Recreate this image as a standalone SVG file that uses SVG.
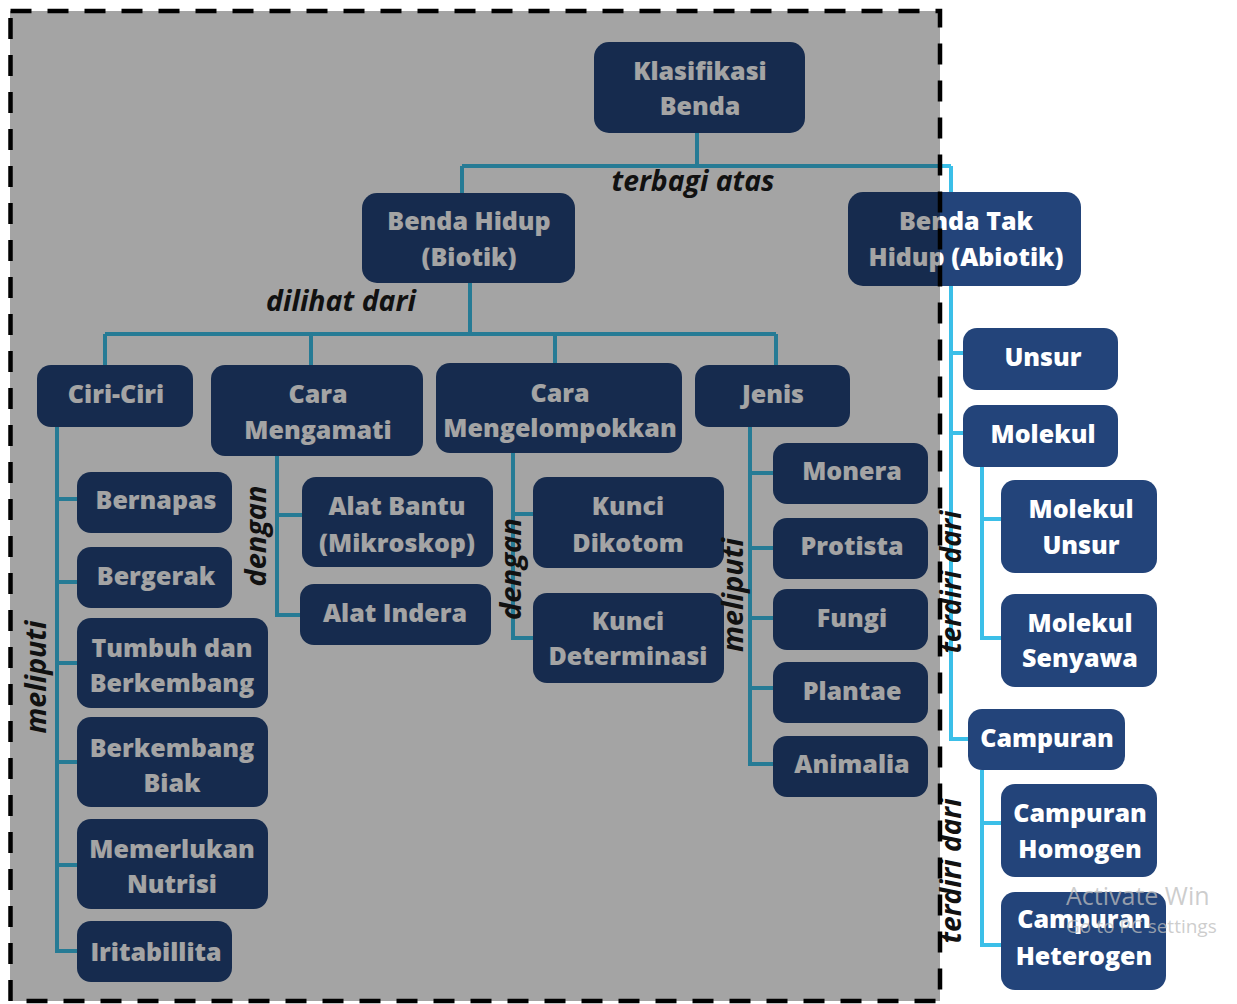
<svg xmlns="http://www.w3.org/2000/svg" width="1237" height="1004" viewBox="0 0 1237 1004">
<style>
.n rect{fill:#23447a;}
.n text{font-family:"Open Sans","Liberation Sans",sans-serif;font-weight:800;font-size:25px;fill:#ffffff;text-anchor:middle;dominant-baseline:central;}
.c{fill:none;stroke:#3bbfe8;stroke-width:4;}
.lbl{font-family:"Open Sans","Liberation Sans",sans-serif;font-style:italic;font-weight:700;font-size:28px;fill:#111111;text-anchor:middle;}
.wm{font-family:"Open Sans","Liberation Sans",sans-serif;fill:#bdbdbd;fill-opacity:0.75;}
</style>
<rect x="0" y="0" width="1237" height="1004" fill="#ffffff"/>
<g id="connectors">
<path class="c" d="M697,132 V166 M462,166 H951 M462,166 V193 M951,166 V739 H968"/>
<path class="c" d="M470,283 V334 M105,334 H776 M105,334 V366 M311,334 V366 M555,334 V363 M776,334 V366"/>
<path class="c" d="M57,427 V951 H77 M57,499 H77 M57,582 H77 M57,663 H77 M57,762 H77 M57,865 H77"/>
<path class="c" d="M277,456 V615 H300 M277,515 H302"/>
<path class="c" d="M513,453 V638 H533 M513,514 H533"/>
<path class="c" d="M750,427 V764 H773 M750,473 H773 M750,548 H773 M750,618 H773 M750,688 H773"/>
<path class="c" d="M951,353 H963 M951,433 H963"/>
<path class="c" d="M982,467 V638 H1001 M982,519 H1001"/>
<path class="c" d="M982,770 V945 H1001 M982,823 H1001"/>
</g>
<g id="n-klasifikasi" class="n"><rect x="594" y="42" width="211" height="91" rx="15"/><text x="700" y="70">Klasifikasi</text><text x="700" y="105">Benda</text></g>
<g id="n-benda-hidup" class="n"><rect x="362" y="193" width="213" height="90" rx="15"/><text x="469" y="220">Benda Hidup</text><text x="469" y="256">(Biotik)</text></g>
<g id="n-benda-tak-hidup" class="n"><rect x="848" y="192" width="233" height="94" rx="15"/><text x="966" y="220">Benda Tak</text><text x="966" y="256">Hidup (Abiotik)</text></g>
<g id="n-ciri-ciri" class="n"><rect x="37" y="365" width="156" height="62" rx="14"/><text x="116" y="393">Ciri-Ciri</text></g>
<g id="n-cara-mengamati" class="n"><rect x="211" y="365" width="212" height="91" rx="14"/><text x="318" y="393">Cara</text><text x="318" y="429">Mengamati</text></g>
<g id="n-cara-mengelompokkan" class="n"><rect x="436" y="363" width="246" height="90" rx="14"/><text x="560" y="392">Cara</text><text x="560" y="427">Mengelompokkan</text></g>
<g id="n-jenis" class="n"><rect x="695" y="365" width="155" height="62" rx="14"/><text x="773" y="393">Jenis</text></g>
<g id="n-bernapas" class="n"><rect x="77" y="472" width="155" height="61" rx="14"/><text x="156" y="499">Bernapas</text></g>
<g id="n-bergerak" class="n"><rect x="77" y="547" width="155" height="61" rx="14"/><text x="156" y="575">Bergerak</text></g>
<g id="n-tumbuh" class="n"><rect x="77" y="618" width="191" height="90" rx="14"/><text x="172" y="647">Tumbuh dan</text><text x="172" y="682">Berkembang</text></g>
<g id="n-berkembang-biak" class="n"><rect x="77" y="717" width="191" height="90" rx="14"/><text x="172" y="747">Berkembang</text><text x="172" y="782">Biak</text></g>
<g id="n-memerlukan" class="n"><rect x="77" y="819" width="191" height="90" rx="14"/><text x="172" y="848">Memerlukan</text><text x="172" y="883">Nutrisi</text></g>
<g id="n-iritabillita" class="n"><rect x="77" y="921" width="155" height="61" rx="14"/><text x="156" y="951">Iritabillita</text></g>
<g id="n-alat-bantu" class="n"><rect x="302" y="477" width="191" height="90" rx="14"/><text x="397" y="505">Alat Bantu</text><text x="397" y="542">(Mikroskop)</text></g>
<g id="n-alat-indera" class="n"><rect x="300" y="584" width="191" height="61" rx="14"/><text x="395" y="612">Alat Indera</text></g>
<g id="n-kunci-dikotom" class="n"><rect x="533" y="477" width="191" height="91" rx="14"/><text x="628" y="505">Kunci</text><text x="628" y="542">Dikotom</text></g>
<g id="n-kunci-determinasi" class="n"><rect x="533" y="593" width="191" height="90" rx="14"/><text x="628" y="620">Kunci</text><text x="628" y="655">Determinasi</text></g>
<g id="n-monera" class="n"><rect x="773" y="443" width="155" height="61" rx="14"/><text x="852" y="470">Monera</text></g>
<g id="n-protista" class="n"><rect x="773" y="518" width="155" height="61" rx="14"/><text x="852" y="545">Protista</text></g>
<g id="n-fungi" class="n"><rect x="773" y="589" width="155" height="61" rx="14"/><text x="852" y="617">Fungi</text></g>
<g id="n-plantae" class="n"><rect x="773" y="662" width="155" height="61" rx="14"/><text x="852" y="690">Plantae</text></g>
<g id="n-animalia" class="n"><rect x="773" y="736" width="155" height="61" rx="14"/><text x="852" y="763">Animalia</text></g>
<g id="n-unsur" class="n"><rect x="963" y="328" width="155" height="62" rx="14"/><text x="1043" y="356">Unsur</text></g>
<g id="n-molekul" class="n"><rect x="963" y="405" width="155" height="62" rx="14"/><text x="1043" y="433">Molekul</text></g>
<g id="n-molekul-unsur" class="n"><rect x="1001" y="480" width="156" height="93" rx="14"/><text x="1081" y="508">Molekul</text><text x="1081" y="544">Unsur</text></g>
<g id="n-molekul-senyawa" class="n"><rect x="1001" y="594" width="156" height="93" rx="14"/><text x="1080" y="622">Molekul</text><text x="1080" y="657">Senyawa</text></g>
<g id="n-campuran" class="n"><rect x="968" y="709" width="157" height="61" rx="14"/><text x="1047" y="737">Campuran</text></g>
<g id="n-campuran-homogen" class="n"><rect x="1001" y="784" width="156" height="93" rx="14"/><text x="1080" y="812">Campuran</text><text x="1080" y="848">Homogen</text></g>
<g id="n-campuran-heterogen" class="n"><rect x="1001" y="892" width="165" height="98" rx="14"/><text x="1084" y="918">Campuran</text><text x="1084" y="955">Heterogen</text></g>
<rect id="shade" x="10" y="11" width="930" height="990" fill="#000000" fill-opacity="0.357"/>
<g id="labels">
<text class="lbl" x="693" y="191" textLength="163" lengthAdjust="spacingAndGlyphs">terbagi atas</text>
<text class="lbl" x="341" y="311" textLength="150" lengthAdjust="spacingAndGlyphs">dilihat dari</text>
<text class="lbl" transform="translate(46,677) rotate(-90)" textLength="113" lengthAdjust="spacingAndGlyphs">meliputi</text>
<text class="lbl" transform="translate(266,536) rotate(-90)" textLength="101" lengthAdjust="spacingAndGlyphs">dengan</text>
<text class="lbl" transform="translate(521,569) rotate(-90)" textLength="102" lengthAdjust="spacingAndGlyphs">dengan</text>
<text class="lbl" transform="translate(743,595) rotate(-90)" textLength="114" lengthAdjust="spacingAndGlyphs">meliputi</text>
<text class="lbl" transform="translate(961,582) rotate(-90)" textLength="143" lengthAdjust="spacingAndGlyphs">terdiri dari</text>
<text class="lbl" transform="translate(961,871) rotate(-90)" textLength="145" lengthAdjust="spacingAndGlyphs">terdiri dari</text>
</g>
<rect id="frame" x="10.5" y="11" width="929.5" height="990" fill="none" stroke="#000000" stroke-width="4.5" stroke-dasharray="21 16"/>
<text class="wm" x="1066" y="905" font-size="25">Activate Win</text>
<text class="wm" x="1066" y="933" font-size="19">Go to PC settings</text>
</svg>
